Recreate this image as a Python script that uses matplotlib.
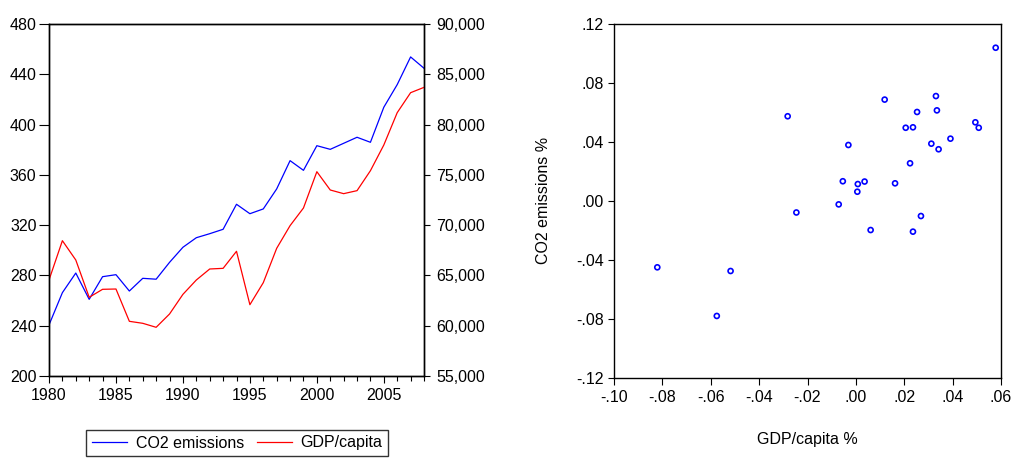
import matplotlib
matplotlib.use("Agg")
import matplotlib.pyplot as plt
from matplotlib.ticker import FuncFormatter, MultipleLocator

plt.rcParams['font.family'] = ['Liberation Sans', 'DejaVu Sans']
plt.rcParams['font.size'] = 11.5

years = list(range(1980, 2009))

co2_emissions = [240.6, 266.3, 281.9, 261.0, 279.0, 280.6, 267.6, 277.7, 277.0, 290.4,
                 302.4, 310.0, 313.2, 316.7, 336.6, 329.1, 332.9, 348.8, 371.3, 363.6,
                 383.2, 380.3, 385.1, 389.9, 385.9, 413.8, 431.8, 453.8, 444.8]

gdp_per_capita = [64545, 68455, 66534, 62825, 63620, 63650, 60437, 60240, 59842, 61165,
                  63120, 64545, 65640, 65705, 67400, 62090, 64280, 67695, 69950, 71705,
                  75315, 73495, 73130, 73430, 75415, 77970, 81185, 83170, 83700]

# growth rates (GDP/capita %, CO2 emissions %)
gdp_growth = [-0.0821, -0.0575, -0.0518, -0.0282, -0.0246, 0.0578, 0.0119, 0.0331,
              0.0335, 0.0253, 0.0206, 0.0236, 0.0494, 0.0508, 0.0391, 0.0312,
              0.0342, -0.0031, 0.0224, -0.0054, 0.0008, 0.0036, 0.0162, 0.0006,
              -0.0071, 0.0269, 0.0061, 0.0236]
co2_growth = [-0.0451, -0.0781, -0.0476, 0.0574, -0.0079, 0.1039, 0.0687, 0.0711,
              0.0614, 0.0603, 0.0496, 0.0499, 0.0533, 0.0496, 0.0422, 0.0388,
              0.0350, 0.0379, 0.0255, 0.0133, 0.0114, 0.0131, 0.0119, 0.0062,
              -0.0024, -0.0103, -0.0198, -0.0209]

W, H = 1018, 458
fig = plt.figure(figsize=(W / 100, H / 100), dpi=100)


def box(x0, y0, x1, y1):
    return [x0 / W, 1 - y1 / H, (x1 - x0) / W, (y1 - y0) / H]


# ---- time series panel ----
ax = fig.add_axes(box(49, 24, 424, 376))
ax2 = ax.twinx()
l1, = ax.plot(years, co2_emissions, color='#0000ff', lw=0.9, label='CO2 emissions')
l2, = ax2.plot(years, gdp_per_capita, color='#ff0000', lw=0.9, label='GDP/capita')
ax.set_xlim(1980, 2008)
ax.set_ylim(200, 480)
ax.set_yticks(range(200, 481, 40))
ax2.set_ylim(55000, 90000)
ax2.set_yticks(range(55000, 90001, 5000))
ax2.yaxis.set_major_formatter(FuncFormatter(lambda v, p: f"{int(v):,}"))
ax.xaxis.set_major_locator(MultipleLocator(5))
ax.xaxis.set_minor_locator(MultipleLocator(1))
ax.tick_params(axis='x', which='major', direction='out', length=5, width=0.8, pad=3.5)
ax.tick_params(axis='x', which='minor', direction='out', length=3.5, width=0.8)
ax.tick_params(axis='y', direction='out', length=7, width=0.8, pad=2)
ax2.tick_params(axis='y', direction='out', length=4.5, width=0.8, pad=4.5)
for a in (ax, ax2):
    for s in a.spines.values():
        s.set_linewidth(1.0)

fig.legend(handles=[l1, l2], loc='center', ncol=2,
           bbox_to_anchor=(237 / W, 1 - 443 / H), frameon=True, fancybox=False,
           edgecolor='black', handlelength=2.2, handletextpad=0.55,
           columnspacing=0.8, borderpad=0.35, borderaxespad=0, fontsize=11.5)

# ---- scatter panel ----
bx = fig.add_axes(box(614, 24, 1001, 377.7))
bx.scatter(gdp_growth, co2_growth, s=13, facecolors='none', edgecolors='#0000ff',
           linewidths=1.2)
bx.set_xlim(-0.10, 0.06)
bx.set_ylim(-0.12, 0.12)
bx.set_xticks([-0.10, -0.08, -0.06, -0.04, -0.02, 0.00, 0.02, 0.04, 0.06])
bx.set_yticks([-0.12, -0.08, -0.04, 0.00, 0.04, 0.08, 0.12])


def short_fmt(v, p):
    s = f"{v:.2f}"
    if s.startswith("-0"):
        s = "-" + s[2:]
    elif s.startswith("0"):
        s = s[1:]
    if s == "-.00":
        s = ".00"
    return s


bx.xaxis.set_major_formatter(FuncFormatter(short_fmt))
bx.yaxis.set_major_formatter(FuncFormatter(short_fmt))
bx.tick_params(axis='x', direction='out', length=5, width=0.8, pad=4)
bx.tick_params(axis='y', direction='out', length=4.5, width=0.8, pad=3)
for s in bx.spines.values():
    s.set_linewidth(1.0)
bx.set_xlabel('GDP/capita %', labelpad=19)
bx.set_ylabel('CO2 emissions %', labelpad=18)

fig.savefig('out.png', dpi=100)
